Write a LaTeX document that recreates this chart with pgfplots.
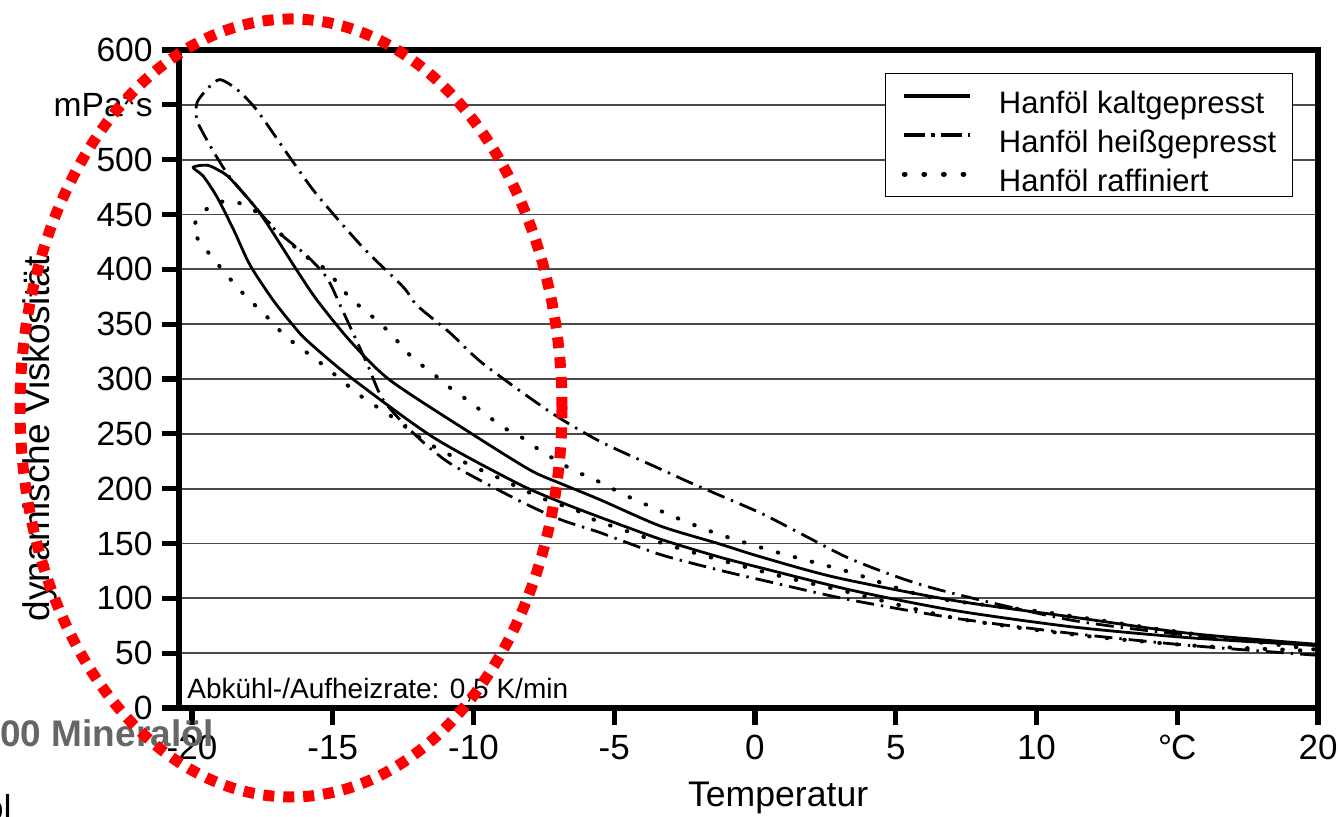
\documentclass[border=0pt]{standalone}
\usepackage{fontspec}
\setmainfont{Liberation Sans}
\usepackage{pgfplots}
\pgfplotsset{compat=1.18}
\definecolor{grau}{HTML}{666666}
\definecolor{gridgrey}{HTML}{4A4A4A}

\begin{document}
\begin{tikzpicture}
\begin{axis}[
    name=ax, at={(0,0)}, anchor=south west,
    scale only axis, width=569.5pt, height=329pt,
    xmin=-20.46, xmax=20, ymin=0, ymax=600,
    xtick={-20,-15,...,20},
    xticklabels={-20,-15,-10,-5,0,5,10,{°\kern-0.5pt C},20},
    ytick={0,50,...,600},
    yticklabels={0,50,100,150,200,250,300,350,400,450,500,mPa*s,600},
    tick align=outside, xtick pos=left, ytick pos=left,
    major tick length=8.5pt,
    tick style={line width=2.6pt, black},
    axis line style={line width=2.6pt},
    ymajorgrids, major grid style={line width=0.9pt, gridgrey},
    xticklabel style={font=\fontsize{17.5}{20}\selectfont, inner sep=0pt, yshift=-5pt},
    yticklabel style={font=\fontsize{16.8}{20}\selectfont, inner sep=0pt, xshift=-4.5pt},
    xlabel={Temperatur}, ylabel={dynamische Viskosität},
    xlabel style={font=\fontsize{17.8}{20}\selectfont, at={(axis description cs:0.526,-0.137)}, anchor=center},
    ylabel style={font=\fontsize{18.5}{20}\selectfont, at={(axis description cs:-0.122,0.409)}, anchor=center},
    legend style={at={(axis description cs:0.620,0.965)}, anchor=north west,
        draw=black, line width=0.6pt, fill=white,
        inner xsep=8pt, inner ysep=1.5pt,
        font=\fontsize{15.5}{18}\selectfont,
        row sep=0pt, column sep=13pt,
        nodes={inner sep=0pt, text height=18.5pt, text depth=1pt},
        cells={anchor=west}},
    legend image code/.code={\draw[#1] (0pt,0pt) -- (33pt,0pt);},
]
% Legende
\addlegendimage{black, line width=2.2pt}
\addlegendentry{Hanföl kaltgepresst}
\addlegendimage{black, line width=2.2pt, dash pattern=on 10.5pt off 3pt on 2pt off 3pt}
\addlegendentry{Hanföl heißgepresst}
\addlegendimage{black, line width=2.6pt, line cap=round, dash pattern=on 0.3pt off 9.5pt}
\addlegendentry{Hanföl raffiniert}

% kaltgepresst: Abkuehlen (unten) und Aufheizen (oben)
\addplot[forget plot, black, line width=1.4pt, line join=round, smooth, tension=0.45] coordinates {
(20,57) (15.45,64) (11.26,74) (7.07,89) (3.5,107) (0.18,128) (-1.31,138)
(-3.37,154) (-5.51,174) (-6.93,188) (-8.45,205) (-11.44,247) (-14.39,302)
(-15.91,335) (-16.41,349) (-17.12,372) (-17.94,404) (-18.5,435) (-19.11,466)
(-19.6,485) (-19.96,493) (-19.47,495) (-19.1,491) (-18.65,483) (-17.58,451)
(-16.27,399) (-15.56,372) (-14.39,335) (-12.97,299) (-10.12,251) (-7.99,217)
(-6.93,205) (-5.51,190) (-3.37,166) (-1.31,150) (0.18,138) (2.88,119)
(7.07,98) (11.26,83) (15.45,68) (20,58)
};
% heissgepresst
\addplot[forget plot, black, line width=1.4pt, line join=round, smooth, tension=0.45,
    dash pattern=on 9pt off 3.5pt on 1.2pt off 3.5pt] coordinates {
(20,48) (15.45,57) (11.26,68) (7.07,82) (3.3,99) (0.18,117) (-1.31,126)
(-3.37,140) (-5.51,160) (-6.93,172) (-8.45,190) (-10.83,223) (-12.15,251)
(-13.21,281) (-13.78,314) (-14.64,362) (-15.2,392) (-15.9,412) (-16.52,425)
(-17.12,438) (-17.69,455) (-18.65,484) (-19.11,502) (-19.47,518) (-19.82,536)
(-19.82,552) (-19.4,566) (-19.0,573) (-18.4,564) (-17.69,545) (-16.52,502)
(-15.56,468) (-13.93,420) (-12.5,384) (-12.0,367) (-10.83,342) (-9.66,314)
(-7.28,270) (-5.5,243) (-3.37,218) (-2.17,204) (0.18,178) (1.7,158)
(3.48,135) (6.22,110) (11.26,80) (16.27,64) (20,57)
};
% raffiniert
\addplot[forget plot, black, line width=2pt, line cap=round, smooth, tension=0.45,
    dash pattern=on 0.3pt off 8.5pt] coordinates {
(20,52) (15.5,57) (11.3,67) (7.1,82) (3.27,106) (0.78,121) (-1.24,135)
(-3.13,149) (-5.75,172) (-6.32,180) (-7.64,192) (-8.95,208) (-10.23,223)
(-11.65,242) (-12.86,265) (-14.03,285) (-15.35,313) (-16.63,338) (-17.23,354)
(-17.83,369) (-18.4,384) (-19.47,417) (-19.96,436) (-19.64,451) (-19.11,461)
(-18.4,461) (-17.69,452) (-16.63,427) (-15.91,411) (-15.2,399) (-14.64,381)
(-14.03,366) (-13.32,351) (-12.72,335) (-12.15,319) (-11.44,305) (-10.83,292)
(-10.23,281) (-9.52,267) (-8.95,256) (-8.24,246) (-7.64,235) (-6.47,217)
(-5.75,209) (-4.44,192) (-2.56,171) (-1.24,158) (0.78,142) (2.66,129)
(3.48,123) (6.22,101) (10.41,87) (14.6,71) (20,53)
};

\node[anchor=base west, inner sep=0pt, font=\fontsize{14}{16}\selectfont]
    at ([shift={(4pt,4.5pt)}]rel axis cs:0,0) {Abkühl-/Aufheizrate: 0,5 K/min};
\end{axis}

% Reste der Nachbarbeschriftung
\node[anchor=base west, inner sep=0pt, text=grau, font=\bfseries\fontsize{18.5}{20}\selectfont]
    at ([shift={(-89.5pt,-19.5pt)}]ax.south west) {00 Mineralöl};
\node[anchor=base east, inner sep=0pt, font=\fontsize{18}{20}\selectfont]
    at ([shift={(-83.5pt,-56.5pt)}]ax.south west) {ol};

% rote Markierung
\draw[red, line width=5.5pt, dash pattern=on 5.5pt off 4.5pt]
    ([shift={(56pt,150pt)}]ax.south west) ellipse [x radius=135.5pt, y radius=194.5pt];

\pgfresetboundingbox
\path[use as bounding box] ([shift={(-89.5pt,-54.5pt)}]ax.south west)
    rectangle ([shift={(579.5pt,354pt)}]ax.south west);
\end{tikzpicture}
\end{document}
